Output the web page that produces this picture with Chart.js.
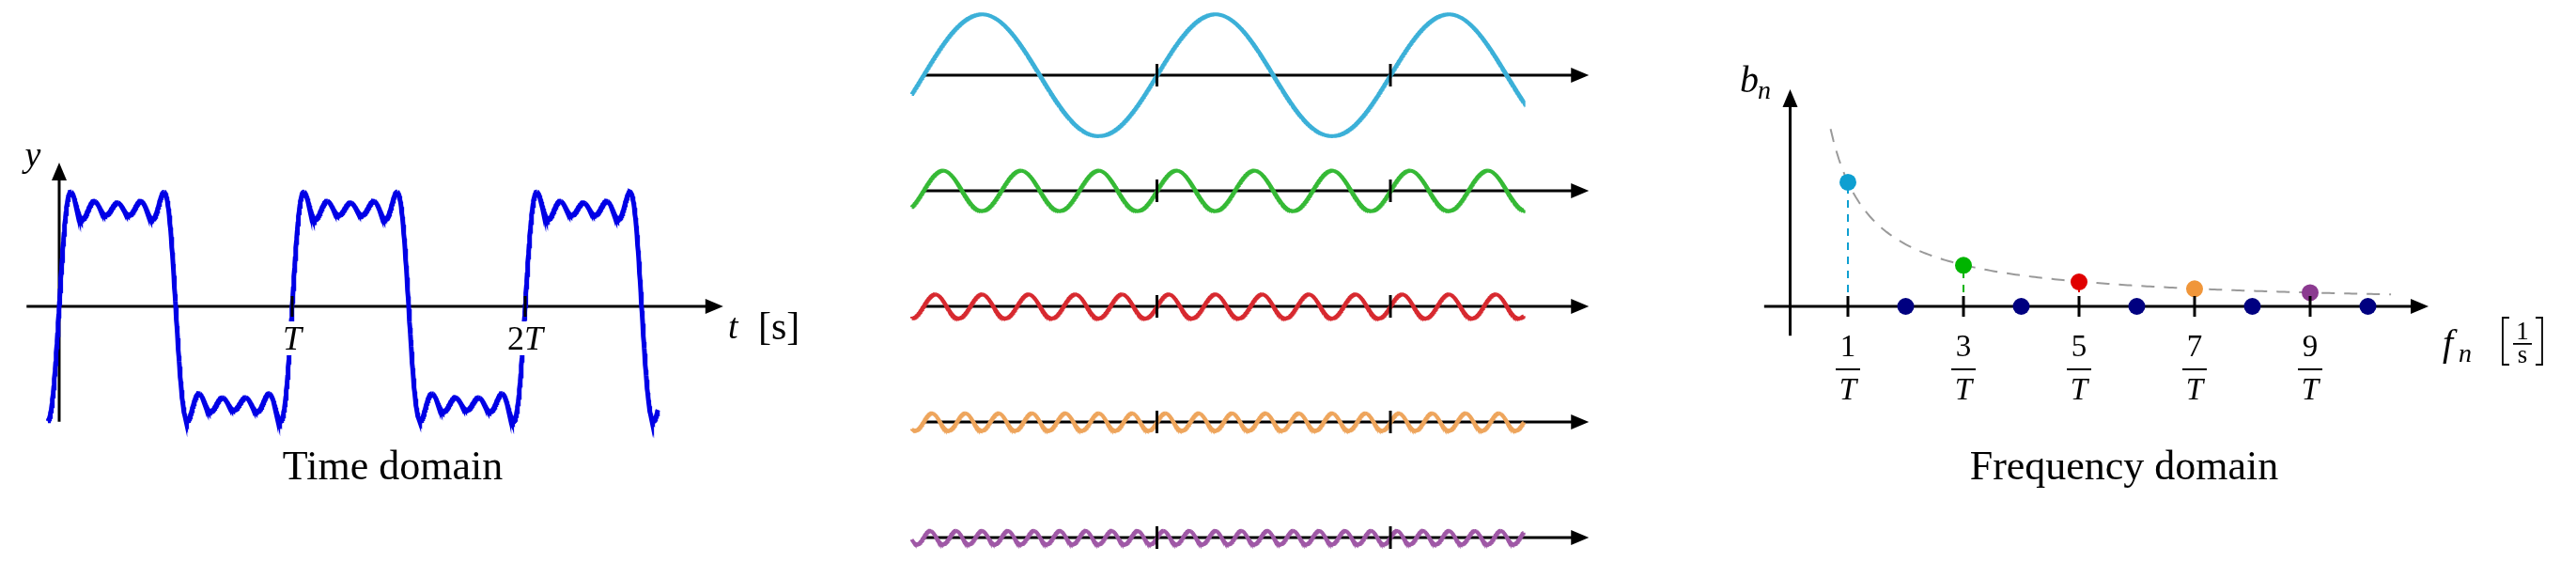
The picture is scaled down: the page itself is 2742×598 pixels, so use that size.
<!DOCTYPE html>
<html lang="en">
<head>
<meta charset="UTF-8">
<title>Fourier series of a square wave</title>
<script src="https://cdn.jsdelivr.net/npm/chart.js@4.4.1/dist/chart.umd.min.js"></script>
<style>
  html, body { margin: 0; padding: 0; background: #fff; }
  #wrap { width: 2742px; height: 598px; position: relative; }
</style>
</head>
<body>
<div id="wrap"><canvas id="chart" width="2742" height="598"></canvas></div>
<script>
  // odd harmonics of the square wave and their amplitudes b_n
  const harmonics = [1, 3, 5, 7, 9];
  const amplitudes = [1.27, 0.42, 0.25, 0.18, 0.14];
  // even harmonics have no amplitude, they sit on the axis
  const evenHarmonics = [2, 4, 6, 8, 10];
  const evenAmplitudes = [0, 0, 0, 0, 0];
  // tick labels
  const timeTicks = [1, 2];
  const timeTickLabels = ['T', '2T'];
  const freqTickLabels = ['1', '3', '5', '7', '9'];
  // time window shown, in periods T
  const tStart = -0.05;
  const tEnd = 2.57;

  const waveColors = ['#3bb0d8', '#35b935', '#d7292f', '#eea55c', '#9f58a6'];
  const dotColors = ['#0e9fd1', '#00b400', '#e00000', '#f0963a', '#8b3a90'];
  const evenDotColor = '#000080';
  const squareColor = '#0000e6';
  const SERIF = "'Liberation Serif', 'DejaVu Serif', serif";

  const W = 2742, H = 598;

  // sampling of the time axis for drawing the curves
  const steps = 1600;
  const tGrid = Array.from({ length: steps + 1 }, (_, i) => tStart + (tEnd - tStart) * i / steps);
  const harmonicCurve = (k) => tGrid.map(t => ({ x: t, y: amplitudes[k] * Math.sin(2 * Math.PI * harmonics[k] * t) }));
  const squareSum = tGrid.map(t => ({
    x: t,
    y: harmonics.reduce((acc, n, k) => acc + amplitudes[k] * Math.sin(2 * Math.PI * n * t), 0)
  }));
  // 1/n envelope through the stems
  const envelopeFrom = 0.7, envelopeTo = 10.4;
  const envelope = Array.from({ length: 201 }, (_, i) => {
    const n = envelopeFrom + (envelopeTo - envelopeFrom) * i / 200;
    return { x: n, y: amplitudes[0] * harmonics[0] / n };
  });

  // map a pixel origin and a pixel-per-unit to a scale range
  function range(originPx, pxPerUnit, sizePx, vertical) {
    return vertical
      ? { min: -(sizePx - originPx) / pxPerUnit, max: originPx / pxPerUnit }
      : { min: -originPx / pxPerUnit, max: (sizePx - originPx) / pxPerUnit };
  }
  const hidden = { type: 'linear', display: false, bounds: 'data', grace: 0 };
  const rowAxisY = [80, 203, 326, 449, 572];

  const scales = {
    xTime: { ...hidden, ...range(63, 248, W, false) },
    yTime: { ...hidden, ...range(326, 104, H, true) },
    xWave: { ...hidden, ...range(983, 248.5, W, false) },
    xFreq: { ...hidden, ...range(1905.5, 61.5, W, false) },
    yFreq: { ...hidden, ...range(326, 104, H, true) }
  };
  rowAxisY.forEach((py, i) => { scales['yRow' + i] = { ...hidden, ...range(py, 51, H, true) }; });

  const datasets = [];
  // frequency domain: dots on top
  datasets.push({
    data: harmonics.map((n, k) => ({ x: n, y: amplitudes[k] })),
    xAxisID: 'xFreq', yAxisID: 'yFreq', showLine: false,
    pointRadius: 9, pointBackgroundColor: dotColors, pointBorderWidth: 0, order: 0
  });
  datasets.push({
    data: evenHarmonics.map((n, k) => ({ x: n, y: evenAmplitudes[k] })),
    xAxisID: 'xFreq', yAxisID: 'yFreq', showLine: false,
    pointRadius: 9, pointBackgroundColor: evenDotColor, pointBorderWidth: 0, order: 0
  });
  harmonics.forEach((n, k) => {
    datasets.push({
      data: [{ x: n, y: 0 }, { x: n, y: amplitudes[k] }],
      xAxisID: 'xFreq', yAxisID: 'yFreq', showLine: true, pointRadius: 0,
      borderColor: dotColors[k], borderWidth: 2, borderDash: [8, 7], order: 1
    });
  });
  datasets.push({
    data: envelope, xAxisID: 'xFreq', yAxisID: 'yFreq', showLine: true, pointRadius: 0,
    borderColor: '#9a9a9a', borderWidth: 2, borderDash: [14, 10], order: 2
  });
  // time domain sum
  datasets.push({
    data: squareSum, xAxisID: 'xTime', yAxisID: 'yTime', showLine: true, pointRadius: 0,
    borderColor: squareColor, borderWidth: 5, order: 3
  });
  // single harmonics
  harmonics.forEach((n, k) => {
    datasets.push({
      data: harmonicCurve(k), xAxisID: 'xWave', yAxisID: 'yRow' + k, showLine: true, pointRadius: 0,
      borderColor: waveColors[k], borderWidth: 4, order: 3
    });
  });

  // ---- drawing helpers ----
  function hArrow(ctx, x1, x2, y) {
    ctx.beginPath(); ctx.moveTo(x1, y); ctx.lineTo(x2 - 16, y); ctx.stroke();
    ctx.beginPath(); ctx.moveTo(x2, y); ctx.lineTo(x2 - 19, y - 8); ctx.lineTo(x2 - 19, y + 8); ctx.closePath(); ctx.fill();
  }
  function vArrow(ctx, x, y1, y2) {
    ctx.beginPath(); ctx.moveTo(x, y1); ctx.lineTo(x, y2 + 16); ctx.stroke();
    ctx.beginPath(); ctx.moveTo(x, y2); ctx.lineTo(x - 8, y2 + 19); ctx.lineTo(x + 8, y2 + 19); ctx.closePath(); ctx.fill();
  }
  function tick(ctx, x, y, half) {
    ctx.beginPath(); ctx.moveTo(x, y - half); ctx.lineTo(x, y + half); ctx.stroke();
  }
  function label(ctx, str, x, y, font, align) {
    ctx.font = font; ctx.textAlign = align || 'center'; ctx.textBaseline = 'alphabetic';
    ctx.fillText(str, x, y);
  }

  const axesPlugin = {
    id: 'fourierAxes',
    beforeDatasetsDraw(chart) {
      const ctx = chart.ctx, s = chart.scales;
      ctx.save();
      ctx.strokeStyle = '#000'; ctx.fillStyle = '#000'; ctx.lineWidth = 3;
      // time domain axes
      const y0 = s.yTime.getPixelForValue(0);
      hArrow(ctx, s.xTime.getPixelForValue(-0.14), s.xTime.getPixelForValue(2.85), y0);
      vArrow(ctx, s.xTime.getPixelForValue(0), s.yTime.getPixelForValue(-1.18), s.yTime.getPixelForValue(1.47));
      // one axis per harmonic
      harmonics.forEach((n, k) => {
        const yy = s['yRow' + k].getPixelForValue(0);
        hArrow(ctx, s.xWave.getPixelForValue(0), s.xWave.getPixelForValue(2.85), yy);
      });
      // frequency domain axes
      const fy = s.yFreq.getPixelForValue(0);
      hArrow(ctx, s.xFreq.getPixelForValue(-0.45), s.xFreq.getPixelForValue(11.05), fy);
      vArrow(ctx, s.xFreq.getPixelForValue(0), s.yFreq.getPixelForValue(-0.30), s.yFreq.getPixelForValue(2.22));
      ctx.restore();
    },
    afterDatasetsDraw(chart) {
      const ctx = chart.ctx, s = chart.scales;
      ctx.save();
      ctx.strokeStyle = '#000'; ctx.fillStyle = '#000'; ctx.lineWidth = 3;
      const y0 = s.yTime.getPixelForValue(0);

      // time domain ticks and labels (white box breaks the curve like the original)
      timeTicks.forEach((v, i) => {
        const x = s.xTime.getPixelForValue(v);
        ctx.fillStyle = '#fff';
        ctx.fillRect(x - (i ? 24 : 14), y0 + 16, i ? 48 : 28, 36);
        ctx.fillStyle = '#000';
        tick(ctx, x, y0, 11);
        if (i === 0) {
          label(ctx, timeTickLabels[i], x, y0 + 46, 'italic 36px ' + SERIF);
        } else {
          ctx.font = '36px ' + SERIF;
          const w2 = ctx.measureText('2').width;
          ctx.font = 'italic 36px ' + SERIF;
          const wT = ctx.measureText('T').width;
          const left = x - (w2 + wT) / 2;
          label(ctx, '2', left, y0 + 46, '36px ' + SERIF, 'left');
          label(ctx, 'T', left + w2, y0 + 46, 'italic 36px ' + SERIF, 'left');
        }
      });
      label(ctx, 'y', 35, 177, 'italic 38px ' + SERIF);
      label(ctx, 't', 775, 360, 'italic 38px ' + SERIF, 'left');
      label(ctx, '[s]', 807, 361, '42px ' + SERIF, 'left');
      label(ctx, 'Time domain', 418, 510, '44px ' + SERIF);

      // ticks on the harmonic axes
      harmonics.forEach((n, k) => {
        const yy = s['yRow' + k].getPixelForValue(0);
        timeTicks.forEach(v => tick(ctx, s.xWave.getPixelForValue(v), yy, 12));
      });

      // frequency domain ticks and labels
      const fy = s.yFreq.getPixelForValue(0);
      harmonics.forEach((n, k) => {
        const x = s.xFreq.getPixelForValue(n);
        tick(ctx, x, fy, 11);
        label(ctx, freqTickLabels[k], x, fy + 53, '33px ' + SERIF);
        ctx.fillRect(x - 13, fy + 66, 26, 2);
        label(ctx, 'T', x, fy + 99, 'italic 33px ' + SERIF);
      });
      label(ctx, 'b', 1852, 98, 'italic 40px ' + SERIF, 'left');
      label(ctx, 'n', 1871, 105, 'italic 28px ' + SERIF, 'left');
      label(ctx, 'f', 2600, 378, 'italic 40px ' + SERIF, 'left');
      label(ctx, 'n', 2617, 385, 'italic 28px ' + SERIF, 'left');
      // big brackets around 1/s
      ctx.lineWidth = 1.8;
      ctx.beginPath();
      ctx.moveTo(2671, 338); ctx.lineTo(2664, 338); ctx.lineTo(2664, 388); ctx.lineTo(2671, 388);
      ctx.moveTo(2699, 338); ctx.lineTo(2706, 338); ctx.lineTo(2706, 388); ctx.lineTo(2699, 388);
      ctx.stroke();
      label(ctx, '1', 2685, 361, '27px ' + SERIF);
      ctx.fillRect(2675, 365, 20, 1.8);
      label(ctx, 's', 2685, 386, '27px ' + SERIF);
      label(ctx, 'Frequency domain', 2261, 510, '44px ' + SERIF);
      ctx.restore();
    }
  };

  new Chart(document.getElementById('chart'), {
    type: 'scatter',
    data: { datasets: datasets },
    options: {
      responsive: false,
      animation: false,
      devicePixelRatio: 1,
      layout: { padding: 0, autoPadding: false },
      scales: scales,
      plugins: { legend: { display: false }, tooltip: { enabled: false } },
      elements: { line: { tension: 0 } }
    },
    plugins: [axesPlugin]
  });
</script>
</body>
</html>
